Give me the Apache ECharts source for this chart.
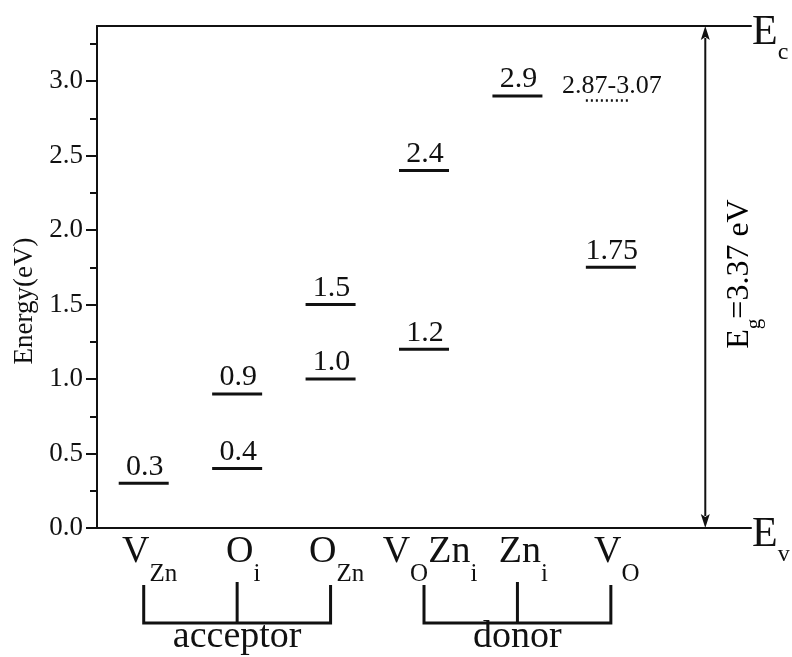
<!DOCTYPE html>
<html>
<head>
<meta charset="utf-8">
<script src="https://cdn.jsdelivr.net/npm/echarts@6/dist/echarts.min.js"></script>
<style>
  html, body { margin: 0; padding: 0; background: #ffffff; }
  #chart { width: 792px; height: 657px; }
</style>
</head>
<body>
<div id="chart"></div>
<script>
// Defect categories (rich-text markup for subscripts); the last band holds the gap arrow
const categories = ['{m|V}{s|Zn}', '{m|O}{s|i}', '{m|O}{s|Zn}', '{m|V}{s|O}{m|Zn}{s|i}', '{m|Zn}{s|i}', '{m|V}{s|O}', ''];

// Defect energy levels (eV above the valence band)
const levelCategory = [0, 1, 1, 2, 2, 3, 3, 4, 5];
const levelValues = [0.3, 0.4, 0.9, 1.0, 1.5, 1.2, 2.4, 2.9, 1.75];

// Level given as a range, drawn dotted
const rangeCategory = [5];
const rangeValues = [2.87];
const rangeLabels = ['2.87-3.07'];

// Band gap
const gapCategory = [6];
const gapValues = [3.37];

// Acceptor / donor groups
const groupNames = ['acceptor', 'donor'];
const groupMembers = [[0, 1, 2], [3, 4, 5]];

// Axis ticks
const majorTicks = [0, 0.5, 1.0, 1.5, 2.0, 2.5, 3.0];
const minorTicks = [0.25, 0.75, 1.25, 1.75, 2.25, 2.75, 3.25];

const FONT = "'Liberation Serif', 'Times New Roman', serif";
const INK = '#111111';
const LINE = '#111111';

function fmtLevel(v) {
  return v.toFixed(Math.round(v * 100) % 10 ? 2 : 1);
}

const subRich = (main, sub, pad) => ({
  m: { fontSize: main, lineHeight: main, verticalAlign: 'top', fontFamily: FONT, color: INK },
  s: { fontSize: sub, lineHeight: sub, verticalAlign: 'top', padding: [pad, 0, 0, 0], fontFamily: FONT, color: INK }
});

const chart = echarts.init(document.getElementById('chart'));

const option = {
  animation: false,
  backgroundColor: '#ffffff',
  grid: { left: 97, right: 41, top: 26, bottom: 129, containLabel: false, outerBoundsMode: 'none' },
  xAxis: [
    {
      type: 'category',
      data: categories,
      position: 'bottom',
      boundaryGap: true,
      axisLine: { lineStyle: { color: LINE, width: 2 } },
      axisTick: { show: false },
      axisLabel: {
        interval: 0,
        margin: 5,
        padding: [0, 0, 0, 12],
        rich: subRich(38, 25, 29)
      },
      splitLine: { show: false },
      name: '{m|E}{s|v}',
      nameLocation: 'end',
      nameGap: 1,
      nameTextStyle: { padding: [14, 0, 0, 0], rich: subRich(42, 24, 29) }
    },
    {
      type: 'category',
      data: categories,
      position: 'top',
      boundaryGap: true,
      axisLine: { onZero: false, lineStyle: { color: LINE, width: 2 } },
      axisTick: { show: false },
      axisLabel: { show: false },
      splitLine: { show: false },
      name: '{m|E}{s|c}',
      nameLocation: 'end',
      nameGap: 1,
      nameTextStyle: { padding: [14, 0, 0, 0], rich: subRich(42, 24, 29) }
    }
  ],
  yAxis: [
    {
      type: 'value',
      position: 'left',
      min: 0,
      max: gapValues[0],
      axisLine: { show: true, lineStyle: { color: LINE, width: 2 } },
      axisTick: { show: true, customValues: majorTicks, length: 11, lineStyle: { color: LINE, width: 2 } },
      axisLabel: {
        customValues: majorTicks,
        margin: 14,
        fontSize: 27,
        fontFamily: FONT,
        color: INK,
        formatter: v => v.toFixed(1)
      },
      splitLine: { show: false },
      name: 'Energy(eV)',
      nameLocation: 'middle',
      nameGap: 55,
      nameTextStyle: { fontSize: 27, fontFamily: FONT, color: INK, padding: [0, 48, 0, 0] }
    },
    {
      type: 'value',
      position: 'left',
      min: 0,
      max: gapValues[0],
      axisLine: { show: false },
      axisTick: { show: true, customValues: minorTicks, length: 7, lineStyle: { color: LINE, width: 2 } },
      axisLabel: { show: false },
      splitLine: { show: false }
    }
  ],
  series: [
    {
      name: 'levels',
      type: 'scatter',
      xAxisIndex: 0,
      yAxisIndex: 0,
      data: levelValues.map((v, i) => [levelCategory[i], v]),
      symbol: 'rect',
      symbolSize: [50, 3],
      itemStyle: { color: LINE, opacity: 1 },
      label: {
        show: true,
        position: 'top',
        distance: 0,
        offset: [1, 0],
        formatter: p => fmtLevel(p.value[1]),
        fontSize: 30,
        fontFamily: FONT,
        color: INK
      },
      emphasis: { disabled: true }
    },
    {
      name: 'range',
      type: 'custom',
      xAxisIndex: 0,
      yAxisIndex: 0,
      clip: false,
      data: rangeValues.map((v, i) => [rangeCategory[i], v]),
      encode: { x: 0, y: 1 },
      renderItem(params, api) {
        const p = api.coord([api.value(0), api.value(1)]);
        return {
          type: 'group',
          children: [
            {
              type: 'line',
              shape: { x1: p[0] - 25, y1: p[1], x2: p[0] + 18, y2: p[1] },
              style: { stroke: LINE, lineWidth: 2.5, lineDash: [2, 3] }
            },
            {
              type: 'text',
              x: p[0] + 1,
              y: p[1] - 1,
              style: {
                text: rangeLabels[params.dataIndex],
                fontSize: 26,
                fontFamily: FONT,
                fill: INK,
                align: 'center',
                verticalAlign: 'bottom'
              }
            }
          ]
        };
      }
    },
    {
      name: 'gap',
      type: 'custom',
      xAxisIndex: 0,
      yAxisIndex: 0,
      clip: false,
      data: gapValues.map((v, i) => [gapCategory[i], v]),
      encode: { x: 0, y: 1 },
      renderItem(params, api) {
        const p0 = api.coord([api.value(0), 0]);
        const p1 = api.coord([api.value(0), api.value(1)]);
        const x = p0[0] + 1;
        const hw = 4.5, hl = 14;
        const rich = subRich(32, 21, 21);
        return {
          type: 'group',
          children: [
            { type: 'line', shape: { x1: x, y1: p1[1] + hl - 2, x2: x, y2: p0[1] - hl + 2 }, style: { stroke: LINE, lineWidth: 2 } },
            { type: 'polygon', shape: { points: [[x, p1[1]], [x - hw, p1[1] + hl], [x, p1[1] + hl - 3], [x + hw, p1[1] + hl]] }, style: { fill: LINE } },
            { type: 'polygon', shape: { points: [[x, p0[1]], [x - hw, p0[1] - hl], [x, p0[1] - hl + 3], [x + hw, p0[1] - hl]] }, style: { fill: LINE } },
            {
              type: 'text',
              x: x + 34,
              y: (p0[1] + p1[1]) / 2 - 3,
              rotation: Math.PI / 2,
              style: {
                text: '{m|E}{s|g}{m|=' + api.value(1).toFixed(2) + ' eV}',
                rich: rich,
                align: 'center',
                verticalAlign: 'middle'
              }
            }
          ]
        };
      }
    },
    {
      name: 'groups',
      type: 'custom',
      xAxisIndex: 0,
      yAxisIndex: 0,
      clip: false,
      data: groupMembers.map(g => [g[0], 0, g[1], g[2]]),
      encode: { x: 0, y: 1 },
      renderItem(params, api) {
        const a = api.coord([api.value(0), 0]);
        const m = api.coord([api.value(2), 0]);
        const b = api.coord([api.value(3), 0]);
        const y0 = a[1];
        const stemTop = y0 + 57, barY = y0 + 95;
        return {
          type: 'group',
          children: [
            {
              type: 'polyline',
              shape: { points: [[a[0], stemTop], [a[0], barY], [b[0], barY], [b[0], stemTop]] },
              style: { stroke: LINE, lineWidth: 3, fill: 'none', lineJoin: 'miter' }
            },
            {
              type: 'line',
              shape: { x1: m[0], y1: stemTop - 3, x2: m[0], y2: barY },
              style: { stroke: LINE, lineWidth: 3 }
            },
            {
              type: 'text',
              x: m[0],
              y: y0 + 109,
              style: {
                text: groupNames[params.dataIndex],
                fontSize: 38,
                fontFamily: FONT,
                fill: INK,
                align: 'center',
                verticalAlign: 'middle'
              }
            }
          ]
        };
      }
    }
  ]
};

chart.setOption(option);
</script>
</body>
</html>
